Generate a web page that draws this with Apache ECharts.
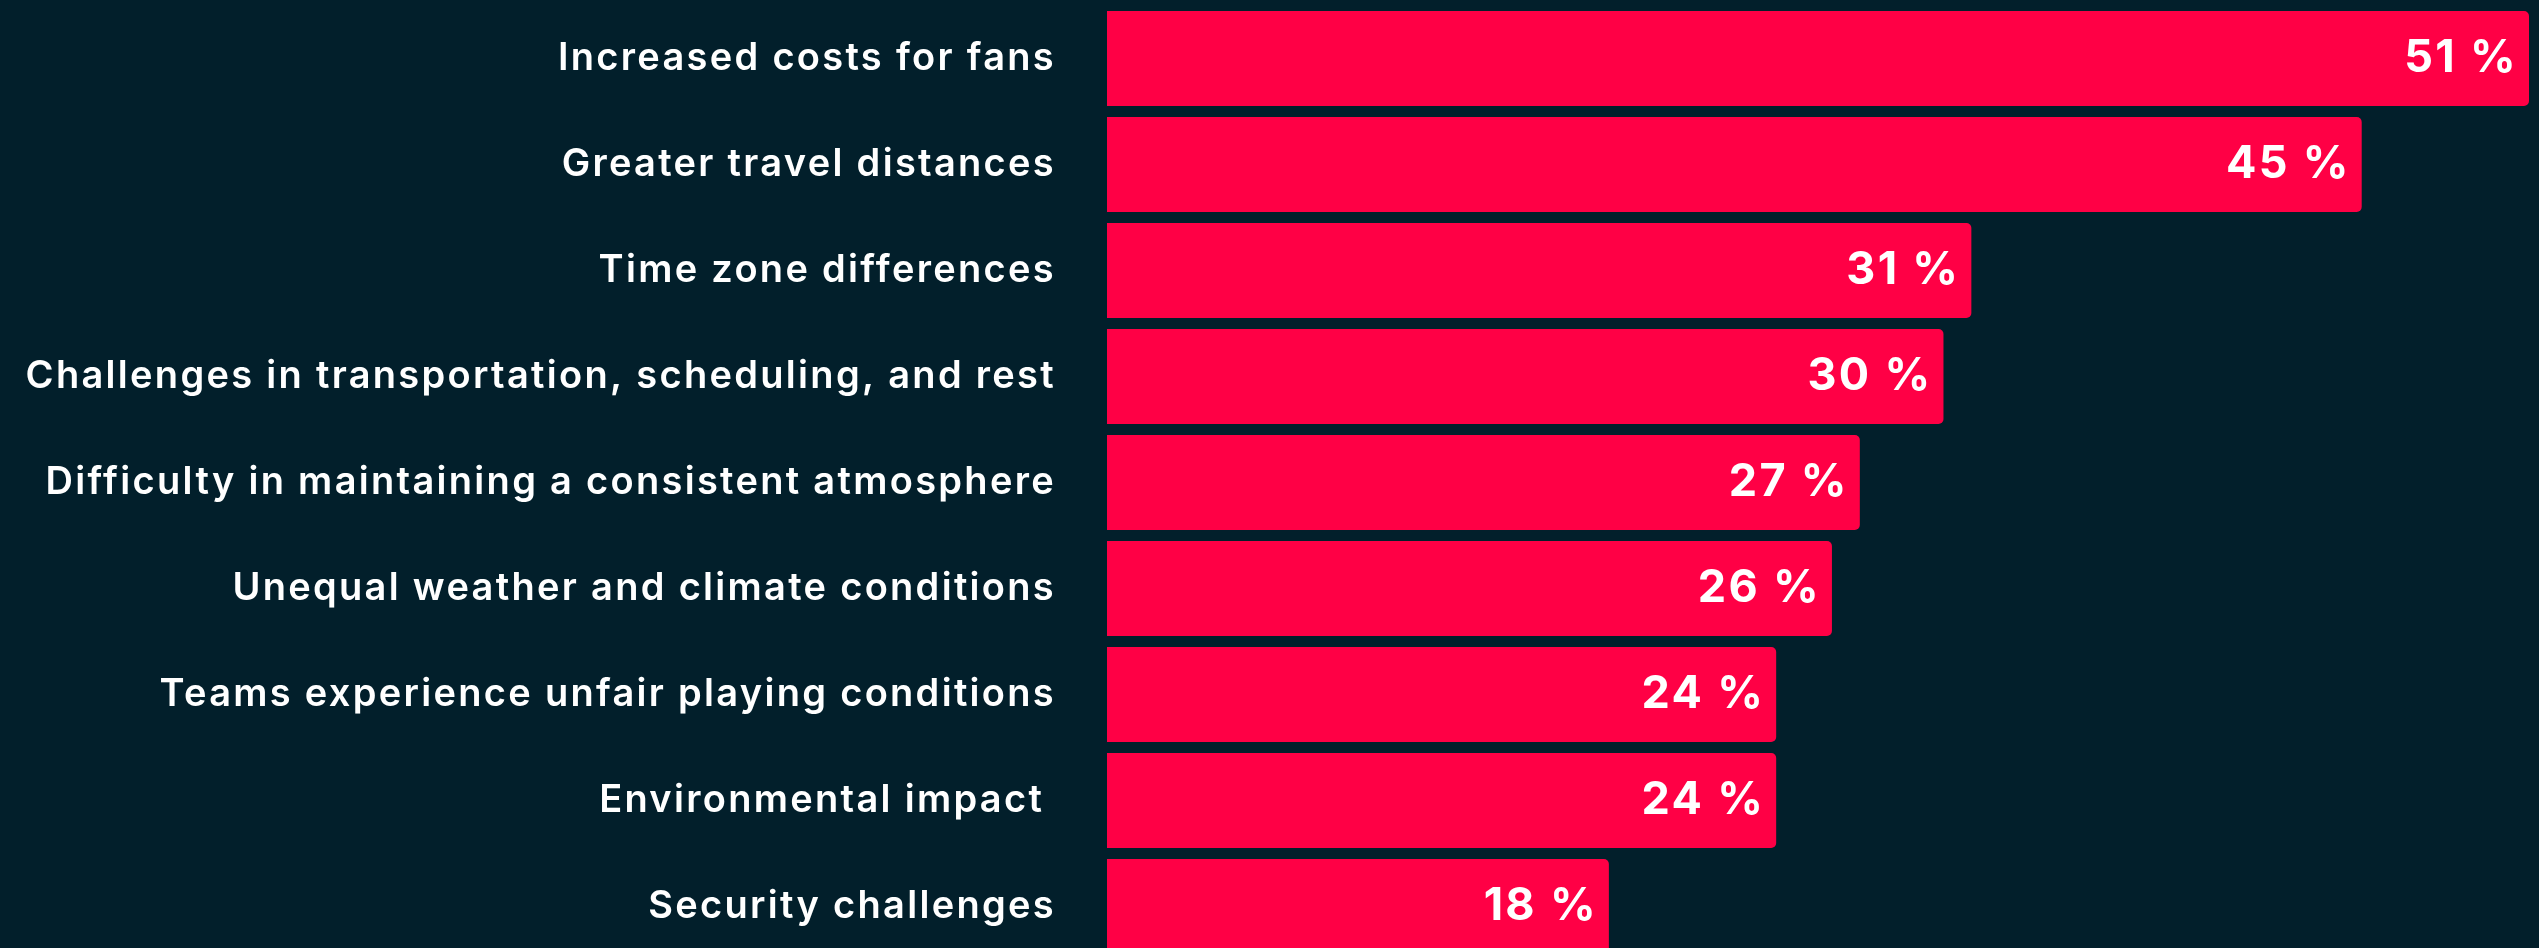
<!DOCTYPE html>
<html>
<head>
<meta charset="utf-8">
<script src="https://cdn.jsdelivr.net/npm/echarts@6/dist/echarts.min.js"></script>
<style>
  html, body { margin: 0; padding: 0; background: #021f2b; }
  #chart { width: 2539px; height: 948px; }
</style>
</head>
<body>
<div id="chart"></div>
<script>
// categories, top to bottom
var categories = [
    "Increased costs for fans",
    "Greater travel distances",
    "Time zone differences",
    "Challenges in transportation, scheduling, and rest",
    "Difficulty in maintaining a consistent atmosphere",
    "Unequal weather and climate conditions",
    "Teams experience unfair playing conditions",
    "Environmental impact ",
    "Security challenges"
];
// share of respondents, %
var values = [51, 45, 31, 30, 27, 26, 24, 24, 18];

var chart = echarts.init(document.getElementById("chart"));

var option = {
    backgroundColor: "#021f2b",
    animation: false,
    grid: {
        left: 1107,
        right: 10,
        top: 5.5,
        height: 954,
        outerBoundsMode: "none",
        containLabel: false
    },
    xAxis: {
        type: "value",
        min: 0,
        max: 51,
        show: false
    },
    yAxis: {
        type: "category",
        inverse: true,
        data: categories,
        axisLine: { show: false },
        axisTick: { show: false },
        axisLabel: {
            margin: 51,
            color: "#ffffff",
            fontFamily: "Inter",
            fontWeight: 600,
            fontSize: 38,
            padding: [3, 0, 0, 0]
        }
    },
    series: [
        {
            type: "bar",
            data: values,
            barCategoryGap: "10.4%",
            itemStyle: {
                color: "#ff0045",
                borderRadius: [0, 5, 5, 0]
            },
            label: {
                show: true,
                position: "insideRight",
                distance: 11,
                color: "#ffffff",
                fontFamily: "Inter",
                fontWeight: 700,
                fontSize: 45,
                formatter: function (p) {
                    return p.value + " %";
                }
            }
        }
    ]
};
chart.setOption(option);

// the source chart uses tracked-out lettering; set it on the canvas and repaint
var canvases = document.querySelectorAll("#chart canvas");
for (var i = 0; i < canvases.length; i++) {
    var ctx = canvases[i].getContext("2d");
    if ("letterSpacing" in ctx) ctx.letterSpacing = "2.3px";
}
chart.getZr().painter.refresh(true);
</script>
</body>
</html>
